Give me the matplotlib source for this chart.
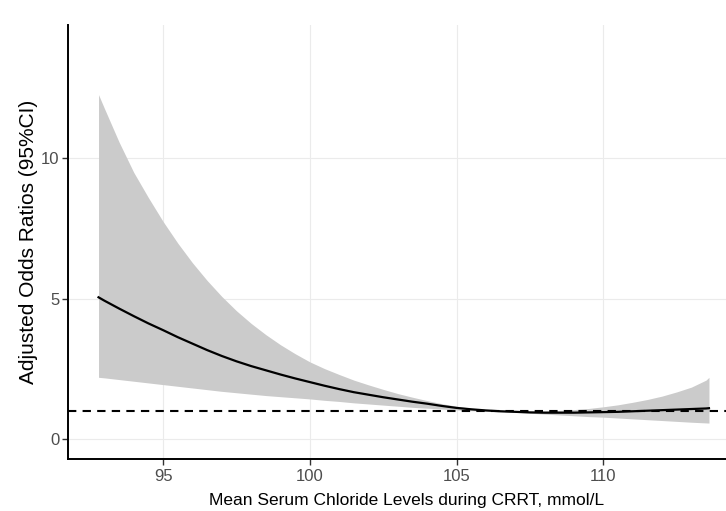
import matplotlib
matplotlib.use("Agg")
import matplotlib.pyplot as plt

plt.rcParams['font.family'] = ['Liberation Sans', 'DejaVu Sans']

# Data
chloride = [92.8, 93.0, 93.5, 94.0, 94.5, 95.0, 95.5, 96.0, 96.5, 97.0, 97.5, 98.0, 98.5,
            99.0, 99.5, 100.0, 100.5, 101.0, 101.5, 102.0, 102.5, 103.0, 103.5, 104.0,
            104.5, 105.0, 105.5, 106.0, 106.5, 107.0, 107.5, 108.0, 108.5, 109.0, 109.5,
            110.0, 110.5, 111.0, 111.5, 112.0, 112.5, 113.0, 113.5, 113.6]
odds_ratio = [5.05, 4.93, 4.65, 4.38, 4.12, 3.88, 3.63, 3.40, 3.17, 2.96, 2.77, 2.60, 2.45,
              2.30, 2.16, 2.03, 1.90, 1.78, 1.67, 1.58, 1.49, 1.41, 1.33, 1.26,
              1.18, 1.11, 1.06, 1.02, 0.99, 0.97, 0.95, 0.94, 0.94, 0.94, 0.95,
              0.96, 0.97, 0.99, 1.01, 1.03, 1.05, 1.07, 1.09, 1.10]
ci_upper = [12.27, 11.78, 10.58, 9.50, 8.60, 7.75, 6.98, 6.28, 5.65, 5.08, 4.57, 4.12, 3.72,
            3.36, 3.04, 2.75, 2.51, 2.30, 2.10, 1.93, 1.77, 1.62, 1.49, 1.37,
            1.26, 1.17, 1.10, 1.04, 1.00, 0.99, 0.99, 1.00, 1.02, 1.05, 1.09,
            1.15, 1.22, 1.31, 1.41, 1.53, 1.68, 1.85, 2.10, 2.20]
ci_lower = [2.20, 2.18, 2.12, 2.06, 2.00, 1.94, 1.88, 1.82, 1.76, 1.70, 1.65, 1.60, 1.55,
            1.51, 1.47, 1.43, 1.38, 1.34, 1.29, 1.25, 1.21, 1.17, 1.13, 1.10,
            1.07, 1.04, 1.01, 0.99, 0.97, 0.95, 0.92, 0.89, 0.86, 0.83, 0.80,
            0.78, 0.75, 0.72, 0.69, 0.66, 0.63, 0.60, 0.575, 0.57]
reference_or = 1.0
x_ticks = [95, 100, 105, 110]
y_ticks = [0, 5, 10]
x_label = 'Mean Serum Chloride Levels during CRRT, mmol/L'
y_label = 'Adjusted Odds Ratios (95%CI)'

W, H = 726, 511
fig = plt.figure(figsize=(W / 100, H / 100), dpi=100)
ax = fig.add_axes([68 / W, (H - 459) / H, (W - 68) / W, (459 - 25) / H])

ax.fill_between(chloride, ci_lower, ci_upper, color='#CBCBCB', linewidth=0, zorder=2)
ax.plot(chloride, odds_ratio, color='black', lw=1.6, zorder=3)
ax.axhline(reference_or, color='black', lw=1.5, ls=(0, (4, 3)), zorder=4)

ax.set_xlim(91.76, 114.18)
ax.set_ylim(-0.71, 14.75)
ax.set_xticks(x_ticks)
ax.set_yticks(y_ticks)
ax.grid(True, color='#EBEBEB', lw=0.8, zorder=0)
ax.set_axisbelow(True)

for s in ['top', 'right']:
    ax.spines[s].set_visible(False)
for s in ['left', 'bottom']:
    ax.spines[s].set_linewidth(1.4)
    ax.spines[s].set_color('black')

ax.tick_params(axis='both', length=4, width=1.0, color='#333333',
               labelcolor='#4D4D4D', labelsize=12, pad=2)
ax.tick_params(axis='x', pad=3)

fig.text(407 / W, (H - 505) / H, x_label, ha='center', va='baseline', fontsize=12.5)
fig.text(29 / W, (H - 242) / H, y_label, ha='center', va='center', rotation=90,
         fontsize=15)

fig.savefig('out.png', dpi=100, facecolor='white')
